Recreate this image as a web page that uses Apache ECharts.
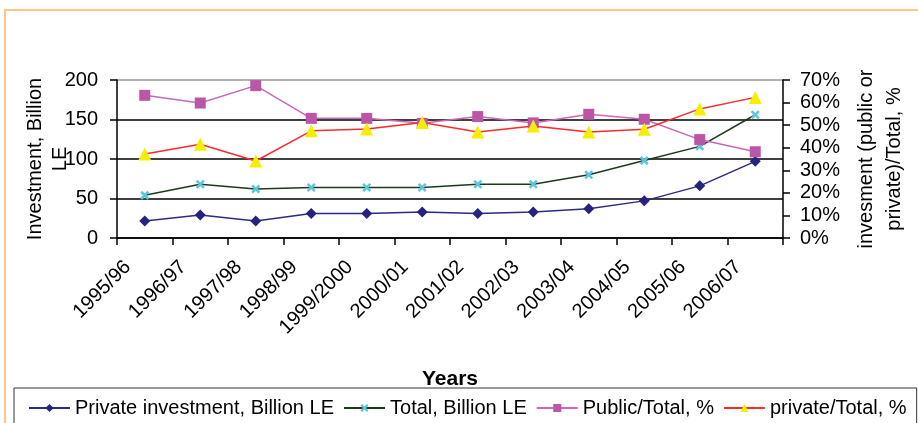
<!DOCTYPE html>
<html>
<head>
<meta charset="utf-8">
<script src="https://cdn.jsdelivr.net/npm/echarts@6/dist/echarts.min.js"></script>
<style>html,body{margin:0;padding:0;background:#fff;}#c{width:918px;height:423px;}</style>
</head>
<body>
<div id="c"></div>
<script>
const categories = ['1995/96','1996/97','1997/98','1998/99','1999/2000','2000/01','2001/02','2002/03','2003/04','2004/05','2005/06','2006/07'];
const privateInvestment = [21.5, 29, 21.5, 31, 31, 33, 31, 33, 37, 47, 66, 97];
const totalInvestment = [54, 68, 62, 64, 64, 64, 68, 68, 80, 98, 116, 156];
const publicShare = [63.2, 59.8, 67.5, 53, 53, 50.8, 53.8, 51, 54.8, 52.6, 43.6, 38.2];
const privateShare = [37.2, 41.5, 34.1, 47.5, 48.3, 51.2, 47, 49.6, 47, 48.2, 57.2, 62.3];
const leftTicks = {min: 0, max: 200, interval: 50};
const rightTicks = {min: 0, max: 70, interval: 10};

const FONT = 'Liberation Sans, Arial, sans-serif';
const chart = echarts.init(document.getElementById('c'), null, {renderer: 'canvas'});
const xShape = 'path://M2,0L5,3L8,0L10,2L7,5L10,8L8,10L5,7L2,10L0,8L3,5L0,2Z';

chart.setOption({
  animation: false,
  backgroundColor: '#fff',
  textStyle: {fontFamily: FONT},
  grid: {left: 117, right: 135, top: 80, bottom: 185, show: false, containLabel: false, outerBoundsMode: 'none'},
  graphic: [
    {type: 'rect', shape: {x: 5, y: 10, width: 940, height: 440}, style: {fill: 'none', stroke: '#FFC490', lineWidth: 2}, silent: true}
  ],
  legend: {
    left: 14, top: 388, width: 895, padding: [10, 10, 20, 14],
    borderColor: '#333', borderWidth: 1,
    itemWidth: 41, itemHeight: 10, itemGap: 9,
    textStyle: {fontSize: 20, color: '#000', fontFamily: FONT},
    data: ['Private investment, Billion LE', 'Total, Billion LE', 'Public/Total, %', 'private/Total, %']
  },
  xAxis: {
    type: 'category', data: categories, boundaryGap: true,
    name: 'Years', nameLocation: 'middle', nameGap: 131, nameMoveOverlap: false,
    nameTextStyle: {fontSize: 21, fontWeight: 'bold', color: '#000', fontFamily: FONT},
    axisLine: {lineStyle: {color: '#000', width: 1.5}},
    axisTick: {show: true, interval: 0, length: 7, lineStyle: {color: '#000', width: 1.5}},
    axisLabel: {rotate: 45, interval: 0, fontSize: 20, color: '#000', margin: 9, padding: [0, 24, 0, 0], fontFamily: FONT}
  },
  yAxis: [
    {
      type: 'value', position: 'left', min: leftTicks.min, max: leftTicks.max, interval: leftTicks.interval,
      name: 'Investment, Billion\nLE', nameLocation: 'middle', nameRotate: 90, nameGap: 44, nameMoveOverlap: false,
      nameTextStyle: {fontSize: 20, color: '#000', lineHeight: 25, fontFamily: FONT},
      axisLine: {show: true, lineStyle: {color: '#000', width: 1.5}},
      axisTick: {show: true, length: 7, lineStyle: {color: '#000', width: 1.5}},
      axisLabel: {fontSize: 20, color: '#000', margin: 19, fontFamily: FONT},
      splitLine: {show: true, lineStyle: {color: ['#000', '#000', '#000', '#000', '#999'], width: 1.5}}
    },
    {
      type: 'value', position: 'right', min: rightTicks.min, max: rightTicks.max, interval: rightTicks.interval,
      name: 'invesment (public or\nprivate)/Total, %', nameLocation: 'middle', nameRotate: 90, nameGap: 69, nameMoveOverlap: false,
      nameTextStyle: {fontSize: 20, color: '#000', lineHeight: 28, fontFamily: FONT},
      axisLine: {show: true, lineStyle: {color: '#000', width: 1.5}},
      axisTick: {show: true, length: 7, lineStyle: {color: '#000', width: 1.5}},
      axisLabel: {fontSize: 20, color: '#000', margin: 17, formatter: '{value}%', fontFamily: FONT},
      splitLine: {show: false}
    }
  ],
  series: [
    {
      name: 'Private investment, Billion LE', type: 'line', yAxisIndex: 0, data: privateInvestment,
      symbol: 'diamond', symbolSize: 11,
      lineStyle: {color: '#2B2B86', width: 1.5}, itemStyle: {color: '#242480'}
    },
    {
      name: 'Total, Billion LE', type: 'line', yAxisIndex: 0, data: totalInvestment,
      symbol: xShape, symbolSize: 9,
      lineStyle: {color: '#1E3A1E', width: 1.5}, itemStyle: {color: '#5CC6DE'}
    },
    {
      name: 'Public/Total, %', type: 'line', yAxisIndex: 1, data: publicShare,
      symbol: 'rect', symbolSize: 11,
      lineStyle: {color: '#CC66BB', width: 1.5}, itemStyle: {color: '#BB55A5'}
    },
    {
      name: 'private/Total, %', type: 'line', yAxisIndex: 1, data: privateShare,
      symbol: 'triangle', symbolSize: 13,
      lineStyle: {color: '#FF2A2A', width: 1.5}, itemStyle: {color: '#F5EE00'}
    }
  ]
});
</script>
</body>
</html>
